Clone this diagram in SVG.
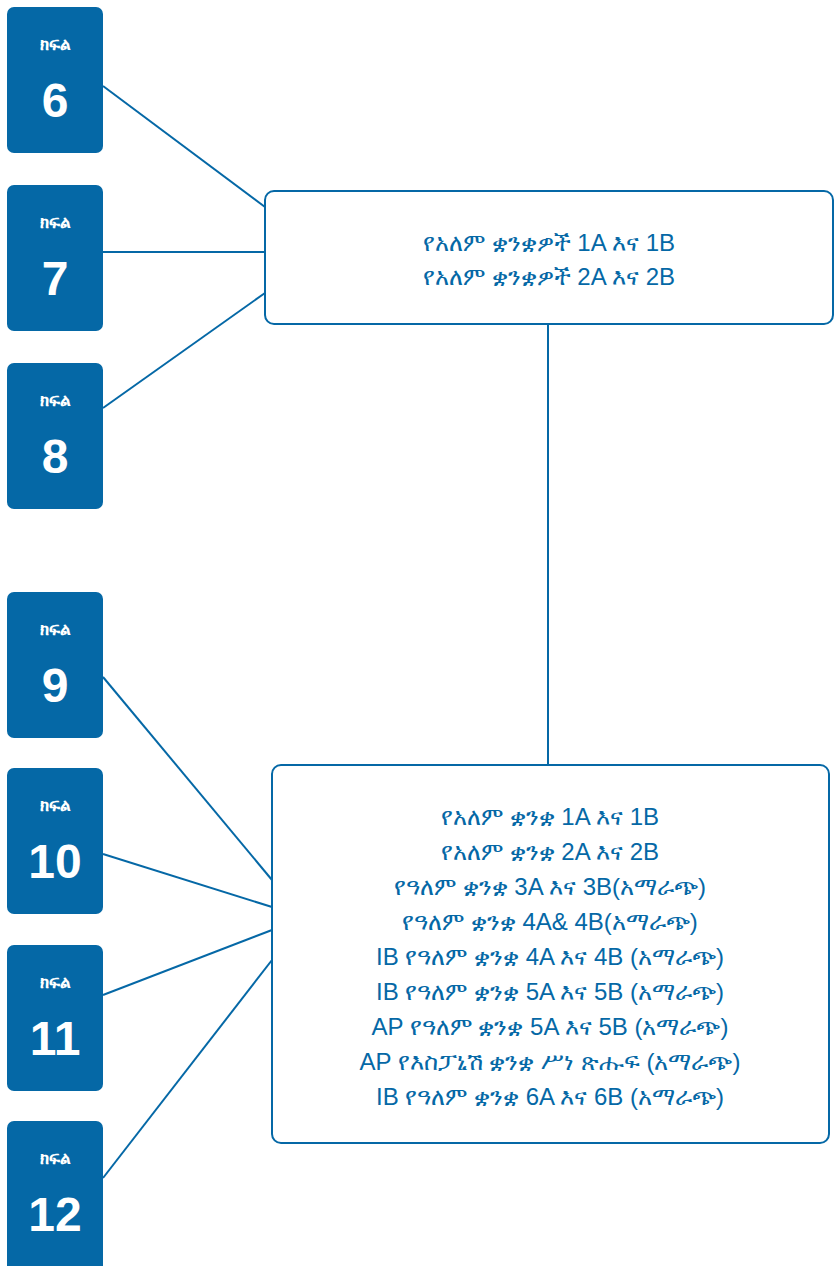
<svg xmlns="http://www.w3.org/2000/svg" width="835" height="1266" viewBox="0 0 835 1266">
<style>
.g{fill:#0568a6}
.lbl{font-family:"Liberation Sans","Noto Sans","DejaVu Sans",sans-serif;font-weight:bold;fill:#fff;text-anchor:middle;font-size:17px}
.num{font-family:"Liberation Sans",Arial,sans-serif;font-weight:bold;fill:#fff;text-anchor:middle;font-size:48px}
.box{fill:#fff;stroke:#0568a6;stroke-width:2}
.t{font-family:"Liberation Sans","Noto Sans","DejaVu Sans",sans-serif;fill:#0568a6;text-anchor:middle;font-size:24px}
.c{stroke:#0568a6;stroke-width:2;fill:none}
</style>
<g id="connectors">
<line class="c" x1="103" y1="86" x2="265" y2="207"/>
<line class="c" x1="103" y1="252" x2="265" y2="252"/>
<line class="c" x1="103" y1="408" x2="265" y2="293"/>
<line class="c" x1="548" y1="324" x2="548" y2="765"/>
<line class="c" x1="103" y1="677" x2="272" y2="880"/>
<line class="c" x1="103" y1="854" x2="272" y2="907"/>
<line class="c" x1="103" y1="995" x2="272" y2="930"/>
<line class="c" x1="103" y1="1178" x2="272" y2="960"/>
</g>
<g id="grade6"><rect class="g" x="7" y="7" width="96" height="146" rx="7"/><text class="lbl" x="55" y="50">ክፍል</text><text class="num" x="55" y="117">6</text></g>
<g id="grade7"><rect class="g" x="7" y="185" width="96" height="146" rx="7"/><text class="lbl" x="55" y="228">ክፍል</text><text class="num" x="55" y="295">7</text></g>
<g id="grade8"><rect class="g" x="7" y="363" width="96" height="146" rx="7"/><text class="lbl" x="55" y="406">ክፍል</text><text class="num" x="55" y="473">8</text></g>
<g id="grade9"><rect class="g" x="7" y="592" width="96" height="146" rx="7"/><text class="lbl" x="55" y="635">ክፍል</text><text class="num" x="55" y="702">9</text></g>
<g id="grade10"><rect class="g" x="7" y="768" width="96" height="146" rx="7"/><text class="lbl" x="55" y="811">ክፍል</text><text class="num" x="55" y="878">10</text></g>
<g id="grade11"><rect class="g" x="7" y="945" width="96" height="146" rx="7"/><text class="lbl" x="55" y="988">ክፍል</text><text class="num" x="55" y="1055">11</text></g>
<g id="grade12"><rect class="g" x="7" y="1121" width="96" height="152" rx="7"/><text class="lbl" x="55" y="1164">ክፍል</text><text class="num" x="55" y="1231">12</text></g>
<g id="courses-6-8">
<rect class="box" x="265" y="191" width="568" height="133" rx="9"/>
<text class="t" x="549" y="251">የአለም ቋንቋዎች 1A እና 1B</text>
<text class="t" x="549" y="285">የአለም ቋንቋዎች 2A እና 2B</text>
</g>
<g id="courses-9-12">
<rect class="box" x="272" y="765" width="557" height="378" rx="9"/>
<text class="t" x="550" y="825">የአለም ቋንቋ 1A እና 1B</text>
<text class="t" x="550" y="860">የአለም ቋንቋ 2A እና 2B</text>
<text class="t" x="550" y="895">የዓለም ቋንቋ 3A እና 3B(አማራጭ)</text>
<text class="t" x="550" y="930">የዓለም ቋንቋ 4A&amp; 4B(አማራጭ)</text>
<text class="t" x="550" y="965">IB የዓለም ቋንቋ 4A እና 4B (አማራጭ)</text>
<text class="t" x="550" y="1000">IB የዓለም ቋንቋ 5A እና 5B (አማራጭ)</text>
<text class="t" x="550" y="1035">AP የዓለም ቋንቋ 5A እና 5B (አማራጭ)</text>
<text class="t" x="550" y="1070">AP የእስፓኒሽ ቋንቋ ሥነ ጽሑፍ (አማራጭ)</text>
<text class="t" x="550" y="1105">IB የዓለም ቋንቋ 6A እና 6B (አማራጭ)</text>
</g>
</svg>
